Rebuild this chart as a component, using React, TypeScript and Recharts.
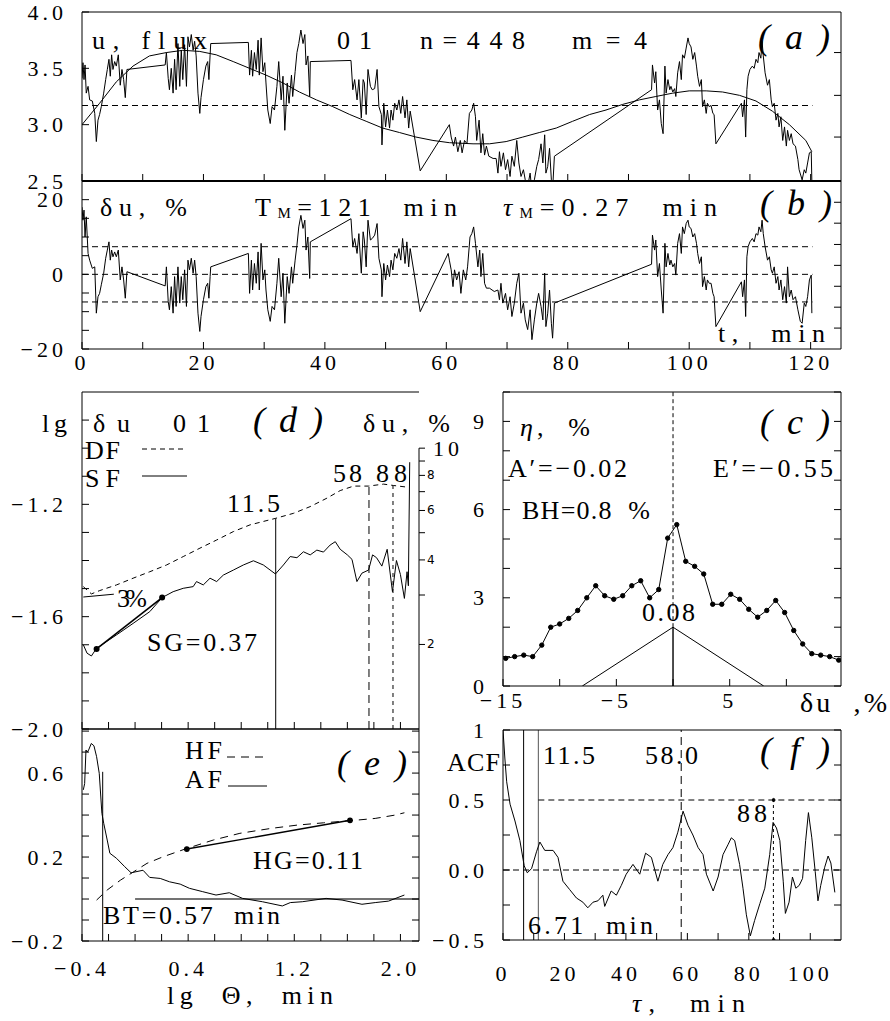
import React from "react";
import { LineChart, Line, XAxis, YAxis, ReferenceLine } from "recharts";

const FONT = '"Liberation Serif", "Times New Roman", serif';
const LS = 4;

type Pt = [number, number];
const toXY = (pts: Pt[]) => pts.map(([x, y]) => ({ x, y }));

// ---- panel (a): flux u(t) and its polynomial fit
const flux: Pt[] = [
  [0, 3.41], [0.16, 3.55], [0.33, 3.4], [0.5, 3.53], [0.7, 3.28], [1.0, 3.34], [1.26, 3.22], [1.7, 3.21], [2.1, 3.1], [2.36, 2.85],
  [2.63, 3.04], [2.9, 3.09], [3.18, 3.16], [3.57, 3.28], [3.9, 3.4], [4.17, 3.49], [4.44, 3.58], [4.66, 3.43], [4.88, 3.62], [5.1, 3.49],
  [5.38, 3.56], [5.65, 3.52], [5.98, 3.62], [6.3, 3.35], [6.58, 3.49], [6.86, 3.4], [7.13, 3.24], [7.4, 3.49],
  [13.7, 3.53], [13.9, 3.64], [14.2, 3.41], [14.4, 3.31], [14.7, 3.5], [15.0, 3.28], [15.25, 3.58], [15.5, 3.31], [15.8, 3.72], [16.1, 3.34],
  [16.35, 3.66], [16.6, 3.4], [16.9, 3.71], [17.2, 3.34], [17.45, 3.78], [17.7, 3.69], [18.0, 3.8], [18.3, 3.66], [18.55, 3.74], [18.8, 3.61],
  [19.1, 3.28], [19.4, 3.1], [19.6, 3.24], [20.0, 3.4], [20.4, 3.52], [20.7, 3.56], [20.9, 3.4], [21.1, 3.62], [21.2, 3.72],
  [27.4, 3.73], [27.6, 3.44], [27.9, 3.66], [28.1, 3.43], [28.4, 3.64], [28.7, 3.49], [29.0, 3.75], [29.2, 3.44], [29.5, 3.77], [29.8, 3.47],
  [30.1, 3.55], [30.3, 3.37], [30.6, 3.13], [31.0, 3.01], [31.3, 3.16], [31.7, 3.13], [32.1, 3.34], [32.4, 3.56], [32.8, 3.22], [33.1, 3.43],
  [33.4, 2.95], [33.8, 3.37], [34.1, 3.19], [34.5, 3.44], [34.7, 3.25], [35.1, 3.47], [35.4, 3.64], [35.7, 3.72], [36.05, 3.84], [36.4, 3.72],
  [36.7, 3.8], [36.9, 3.53], [37.2, 3.61], [37.5, 3.25], [37.6, 3.56],
  [44.3, 3.57], [44.6, 3.31], [44.9, 3.4], [45.3, 3.22], [45.6, 3.4], [46.0, 3.06], [46.3, 3.4], [46.5, 3.37], [46.8, 3.09], [47.1, 3.49],
  [47.5, 3.34], [47.8, 3.31], [48.2, 3.32], [48.6, 3.49], [48.9, 3.16], [49.3, 3.09], [49.4, 2.82], [49.7, 3.19], [50.0, 2.98], [50.3, 3.13],
  [50.65, 2.97], [50.9, 3.13], [51.2, 3.04], [51.5, 3.19], [51.85, 3.13], [52.2, 3.22], [52.5, 3.1], [52.8, 3.25], [53.2, 3.06], [53.5, 3.22],
  [53.8, 2.97], [54.05, 3.12], [55.7, 2.59],
  [60.5, 3.0], [60.8, 2.89], [61.2, 2.81], [61.5, 2.89], [61.9, 2.76], [62.3, 2.86], [62.6, 2.75], [63.0, 2.86], [63.4, 2.83], [63.8, 3.1],
  [64.2, 3.13], [64.5, 3.19], [64.8, 3.07], [65.0, 2.86], [65.4, 3.04], [65.7, 2.75], [66.0, 2.92], [66.3, 2.73], [66.6, 2.81], [67.0, 2.72],
  [67.7, 2.7], [68.2, 2.7], [68.5, 2.57], [68.75, 2.76], [69.0, 2.63], [69.4, 2.75], [69.75, 2.6], [70.1, 2.69], [70.5, 2.54], [70.8, 2.72],
  [71.2, 2.63], [71.6, 2.86], [71.95, 2.66], [72.3, 2.54], [72.7, 2.6], [73.0, 2.51], [73.4, 2.45], [73.8, 2.57], [74.1, 2.41], [74.5, 2.51],
  [74.9, 2.63], [75.2, 2.69], [75.6, 2.83], [75.9, 2.66], [76.2, 2.91], [76.4, 2.57], [76.7, 2.63], [77.0, 2.79], [77.3, 2.51], [77.5, 2.42],
  [77.8, 2.72],
  [93.8, 3.31], [93.95, 3.53], [94.3, 3.37], [94.5, 3.47], [94.8, 3.13], [95.1, 3.22], [95.4, 3.01], [95.7, 2.92], [96.0, 3.52], [96.2, 3.28],
  [96.5, 3.4], [96.8, 3.31], [97.0, 3.34], [97.3, 3.29], [97.6, 3.32], [97.8, 3.25], [98.1, 3.46], [98.4, 3.56], [98.7, 3.4], [98.9, 3.62],
  [99.2, 3.59], [99.5, 3.68], [99.8, 3.77], [100.0, 3.72], [100.3, 3.69], [100.6, 3.58], [100.9, 3.64], [101.2, 3.52], [101.4, 3.43], [101.7, 3.34],
  [102.0, 3.4], [102.2, 3.16], [102.5, 3.22], [102.8, 3.1], [103.0, 3.19], [103.3, 3.16], [103.6, 3.17], [103.9, 3.1], [104.1, 3.09], [104.4, 2.83],
  [108.6, 3.19], [108.8, 3.07], [109.1, 3.22], [109.3, 2.89], [109.5, 3.31], [109.7, 3.43], [110.0, 3.49], [110.4, 3.52], [110.7, 3.5], [111.0, 3.58],
  [111.3, 3.55], [111.5, 3.64], [111.8, 3.59], [112.0, 3.74], [112.2, 3.61], [112.5, 3.46], [112.9, 3.35], [113.2, 3.4], [113.5, 3.22], [113.7, 3.16],
  [114.0, 3.19], [114.3, 3.04], [114.6, 3.1], [114.8, 2.98], [115.1, 3.07], [115.4, 2.86], [115.7, 2.98], [116.0, 2.81], [116.2, 2.95], [116.5, 2.86],
  [116.8, 2.92], [117.1, 2.83], [117.5, 2.81], [117.9, 2.69], [118.1, 2.6], [118.6, 2.51], [118.95, 2.6], [119.2, 2.57], [119.5, 2.66], [119.8, 2.75],
  [120.1, 2.76], [120.2, 2.5],
];

const fluxFit: Pt[] = [
  [0, 3.0], [2.9, 3.19], [5.65, 3.38], [8.4, 3.52], [11.1, 3.61], [13.9, 3.64], [16.6, 3.66], [19.4, 3.65], [22.1, 3.62], [24.9, 3.56],
  [27.6, 3.5], [30.3, 3.44], [33.1, 3.37], [35.8, 3.29], [38.6, 3.22], [41.3, 3.16], [44.1, 3.09], [46.8, 3.03], [49.5, 2.97], [52.3, 2.93],
  [55.0, 2.89], [57.8, 2.86], [60.5, 2.84], [64.4, 2.83], [67.1, 2.83], [69.85, 2.85], [72.6, 2.89], [75.3, 2.93], [78.1, 2.97], [80.8, 3.03],
  [83.6, 3.09], [86.3, 3.13], [89.05, 3.18], [91.8, 3.22], [94.5, 3.25], [97.3, 3.28], [100.0, 3.3], [102.8, 3.3], [105.5, 3.29], [108.3, 3.26],
  [111.0, 3.21], [113.7, 3.12], [116.5, 3.0], [119.2, 2.86], [120.2, 2.76],
];

// ---- panel (b): relative deviation du(t), %
const dev: Pt[] = [
  [0, 18.0], [0.16, 14.5], [0.33, 17.2], [0.5, 10.0], [0.7, 15.4], [1.0, 5.6], [1.26, 3.8], [1.7, 1.6], [2.1, 2.0], [2.36, -10.4],
  [2.63, -6.0], [2.9, -5.1], [3.18, -2.8], [3.57, 0.3], [3.9, 4.3], [4.17, 6.5], [4.44, 8.7], [4.66, 3.8], [4.88, 6.5], [5.1, 4.7],
  [5.38, 6.0], [5.65, 4.7], [5.98, 6.5], [6.3, -1.5], [6.58, 2.0], [6.86, -1.5], [7.13, -6.4], [7.4, 0.7],
  [13.7, -3.1], [13.9, 2.0], [14.2, -7.3], [14.4, -9.5], [14.7, -3.3], [15.0, -10.4], [15.25, -0.6], [15.5, -8.6], [15.8, 2.0], [16.1, -7.7],
  [16.35, -0.6], [16.6, -6.8], [16.9, 1.2], [17.2, -8.6], [17.45, 3.8], [17.7, 1.2], [18.0, 4.3], [18.3, 0.3], [18.55, 3.8], [18.8, -0.6],
  [19.1, -10.4], [19.4, -15.3], [19.6, -11.3], [20.0, -6.8], [20.4, -3.3], [20.7, -2.4], [20.9, -6.4], [21.1, -0.6], [21.2, 2.0],
  [27.4, 5.6], [27.6, -5.1], [27.9, 3.8], [28.1, -4.2], [28.4, 2.9], [28.7, -2.4], [29.0, 6.0], [29.2, -4.2], [29.5, 8.3], [29.8, -1.5],
  [30.1, 1.2], [30.3, -4.2], [30.6, -9.5], [31.0, -12.6], [31.3, -8.6], [31.7, -9.5], [32.1, -2.4], [32.4, 4.3], [32.8, -6.0], [33.1, 0.3],
  [33.4, -13.1], [33.8, -0.6], [34.1, -5.1], [34.5, 2.0], [34.7, -2.4], [35.1, 3.8], [35.4, 7.8], [35.7, 12.7], [36.05, 15.8], [36.4, 12.3],
  [36.7, 14.5], [36.9, 6.5], [37.2, 10.0], [37.5, -1.1], [37.6, 8.7],
  [44.3, 14.9], [44.6, 7.4], [44.9, 9.6], [45.3, 5.6], [45.6, 10.9], [46.0, 0.3], [46.3, 11.4], [46.5, 9.2], [46.8, 2.0], [47.1, 14.5],
  [47.5, 9.2], [47.8, 9.6], [48.2, 10.5], [48.6, 13.6], [48.9, 4.3], [49.3, 1.2], [49.4, -6.0], [49.7, 2.9], [50.0, -1.5], [50.3, 2.5],
  [50.65, -0.6], [50.9, 3.8], [51.2, 1.2], [51.5, 5.6], [51.85, 4.3], [52.2, 6.9], [52.5, 3.8], [52.8, 9.6], [53.2, 2.9], [53.5, 8.7],
  [53.8, 2.0], [54.05, 6.9], [55.7, -10.0],
  [60.3, 5.6], [60.5, 3.8], [60.8, 1.2], [61.1, -3.3], [61.35, 1.2], [61.7, -1.5], [62.1, 0.7], [62.4, -5.1], [62.8, 1.2], [63.2, -1.5],
  [63.5, 2.0], [63.9, 10.0], [64.2, 10.9], [64.5, 12.7], [64.8, 8.3], [65.2, 2.0], [65.5, 6.5], [65.7, -0.6], [66.0, 5.6], [66.3, -2.4],
  [66.6, -3.7], [67.1, -3.7], [67.9, -4.6], [68.5, -4.2], [68.75, -6.8], [69.0, -2.4], [69.3, -7.7], [69.75, -5.1], [70.1, -9.5], [70.5, -6.0],
  [70.8, -11.3], [71.2, -7.7], [71.6, -2.4], [71.95, 0.3], [72.3, -10.4], [72.7, -7.7], [73.0, -12.2], [73.4, -14.8], [73.8, -9.5], [74.1, -17.5],
  [74.5, -12.2], [74.9, -7.7], [75.2, -5.1], [75.6, -8.6], [75.9, -12.2], [76.2, 0.3], [76.4, -14.0], [76.7, -10.4], [77.0, -4.2], [77.3, -13.1],
  [77.5, -17.1], [77.8, -7.7],
  [93.8, 2.7], [93.95, 10.5], [94.3, 6.5], [94.5, 9.2], [94.8, -0.6], [95.1, 2.9], [95.4, -4.2], [95.7, -10.4], [96.0, 8.3], [96.2, 2.0],
  [96.5, 5.6], [96.8, 2.5], [97.0, 3.8], [97.3, 2.0], [97.6, 2.9], [97.8, -0.2], [98.1, 8.3], [98.4, 10.9], [98.7, 5.6], [98.9, 12.7],
  [99.2, 10.9], [99.5, 13.6], [99.8, 14.5], [100.0, 12.7], [100.3, 12.3], [100.6, 10.0], [100.9, 10.9], [101.2, 8.3], [101.4, 5.6], [101.7, 2.9],
  [102.0, 4.7], [102.2, -3.3], [102.5, -0.6], [102.8, -4.2], [103.0, -1.5], [103.3, -2.4], [103.6, -2.4], [103.9, -5.1], [104.1, -6.0], [104.4, -14.0],
  [108.6, -2.0], [108.8, -6.0], [109.1, -1.5], [109.3, -11.3], [109.5, 4.7], [109.7, 7.4], [110.0, 8.7], [110.4, 9.6], [110.7, 8.7], [111.0, 10.9],
  [111.3, 10.5], [111.5, 12.7], [111.8, 11.4], [112.0, 14.5], [112.2, 10.9], [112.5, 7.4], [112.9, 3.8], [113.2, 4.7], [113.5, 1.2], [113.7, 0.3],
  [114.0, 2.0], [114.3, -2.4], [114.6, -0.6], [114.8, -4.2], [115.1, -1.5], [115.4, -6.8], [115.7, -3.3], [116.0, -7.7], [116.2, 2.0], [116.5, -6.0],
  [116.8, -4.2], [117.1, -6.8], [117.5, -6.0], [117.9, -9.5], [118.3, -12.6], [118.6, -13.1], [118.95, -7.7], [119.2, -8.6], [119.5, -6.0], [119.8, -1.5],
  [120.1, -0.2], [120.2, -10.4],
];

// ---- panel (d): lg du vs lg theta
const dfCurve: Pt[] = [
  [-0.39, -1.493], [-0.329, -1.519], [-0.266, -1.507], [-0.14, -1.487], [-0.015, -1.463], [0.111, -1.44], [0.237, -1.416], [0.363, -1.386],
  [0.489, -1.356], [0.615, -1.327], [0.741, -1.297], [0.867, -1.273], [1.058, -1.25], [1.194, -1.232], [1.32, -1.208], [1.446, -1.178],
  [1.546, -1.151], [1.647, -1.135], [1.76, -1.135], [1.873, -1.128], [1.949, -1.133], [2.055, -1.139],
];
const sfCurve: Pt[] = [
  [-0.39, -1.7], [-0.362, -1.73], [-0.329, -1.74], [-0.291, -1.713], [-0.216, -1.689], [-0.14, -1.665], [-0.015, -1.624], [0.111, -1.582],
  [0.204, -1.532], [0.287, -1.511], [0.363, -1.499], [0.438, -1.493], [0.463, -1.475], [0.514, -1.487], [0.565, -1.463], [0.615, -1.475],
  [0.665, -1.452], [0.741, -1.434], [0.816, -1.416], [0.892, -1.401], [0.967, -1.416], [1.058, -1.448], [1.118, -1.416], [1.169, -1.386],
  [1.22, -1.39], [1.269, -1.369], [1.32, -1.38], [1.37, -1.363], [1.42, -1.37], [1.47, -1.345], [1.509, -1.333], [1.546, -1.36],
  [1.6, -1.38], [1.635, -1.396], [1.672, -1.475], [1.71, -1.445], [1.76, -1.434], [1.79, -1.38], [1.82, -1.39], [1.86, -1.42],
  [1.9, -1.36], [1.94, -1.511], [1.97, -1.4], [2.0, -1.45], [2.03, -1.535], [2.05, -1.44], [2.06, -1.49], [2.07, -1.05],
];
const sgFit: Pt[] = [[-0.29, -1.715], [0.204, -1.532]];
const dRightTicks = [2, 3, 4, 5, 6, 7, 8, 9, 10];

// ---- panel (e): Hurst function HF and AF
const hfCurve: Pt[] = [
  [-0.29, -0.005], [-0.21, 0.043], [-0.11, 0.09], [-0.01, 0.13], [0.09, 0.17], [0.21, 0.201], [0.39, 0.241], [0.59, 0.281],
  [0.79, 0.313], [1.02, 0.336], [1.22, 0.352], [1.42, 0.363], [1.62, 0.373], [1.81, 0.384], [1.96, 0.4], [2.03, 0.411],
];
const afCurve: Pt[] = [
  [-0.39, 0.52], [-0.38, 0.55], [-0.37, 0.71], [-0.36, 0.7], [-0.35, 0.71], [-0.33, 0.741], [-0.31, 0.73], [-0.29, 0.678], [-0.27, 0.599],
  [-0.25, 0.408], [-0.236, 0.36], [-0.21, 0.281], [-0.19, 0.218], [-0.14, 0.194], [-0.078, 0.154], [-0.03, 0.125], [0.06, 0.137],
  [0.11, 0.103], [0.19, 0.098], [0.26, 0.082], [0.34, 0.071], [0.41, 0.051], [0.51, 0.035], [0.61, 0.019], [0.71, 0.03], [0.81, 0.003],
  [0.96, -0.013], [1.11, -0.033], [1.17, -0.017], [1.26, -0.013], [1.44, 0.003], [1.56, -0.005], [1.71, -0.025], [1.81, -0.017],
  [1.91, -0.01], [2.03, 0.019],
];
const hgFit: Pt[] = [[0.39, 0.238], [1.62, 0.375]];

// ---- panel (c): distribution of du, %
const etaBins = [
  -14.76, -13.97, -13.17, -12.38, -11.58, -10.79, -10.0, -9.2, -8.41, -7.61, -6.82, -6.03, -5.23, -4.44, -3.64, -2.85, -2.06, -1.26, -0.47,
  0.33, 1.12, 1.91, 2.71, 3.5, 4.3, 5.09, 5.88, 6.68, 7.47, 8.27, 9.06, 9.85, 10.65, 11.44, 12.24, 13.03, 13.82, 14.62,
];
const etaVals = [
  0.94, 1.0, 1.05, 1.0, 1.39, 2.0, 2.11, 2.3, 2.57, 3.0, 3.41, 3.07, 2.95, 3.07, 3.41, 3.58, 3.0, 3.28, 5.03,
  5.49, 4.24, 4.07, 3.81, 2.78, 2.78, 3.12, 2.95, 2.61, 2.34, 2.57, 2.91, 2.5, 1.89, 1.43, 1.1, 1.05, 1.0, 0.88,
];
const bhTriangle: Pt[] = [[-8, 0], [0, 2], [8, 0]];

// ---- panel (f): autocorrelation function
const acf: Pt[] = [
  [0, 1.0], [0.6, 0.8], [1.2, 0.63], [2.3, 0.47], [3.9, 0.35], [5.5, 0.21], [6.9, 0.03], [7.9, -0.02], [9.3, 0.01], [10.9, 0.13],
  [12.0, 0.2], [13.6, 0.14], [16.3, 0.14], [17.9, 0.09], [19.5, -0.08], [21.7, -0.14], [23.9, -0.2], [26.0, -0.23], [27.6, -0.27], [29.3, -0.23],
  [30.9, -0.22], [32.5, -0.18], [33.1, -0.26], [35.2, -0.15], [36.9, -0.18], [38.5, -0.11], [40.1, -0.03], [42.3, 0.04], [44.5, -0.03], [46.4, 0.12],
  [48.3, 0.09], [50.4, -0.08], [52.0, 0.04], [53.7, 0.11], [55.3, 0.16], [56.9, 0.27], [58.6, 0.42], [60.2, 0.32], [61.8, 0.25], [63.5, 0.16],
  [65.1, 0.11], [66.2, -0.03], [68.4, -0.15], [70.0, -0.05], [71.6, 0.11], [73.2, 0.18], [74.3, 0.23], [75.4, 0.21], [77.0, 0.04], [78.1, -0.13],
  [79.2, -0.32], [80.5, -0.47], [81.9, -0.36], [83.6, -0.24], [85.2, -0.13], [86.8, 0.11], [87.9, 0.34], [89.0, 0.3], [90.1, 0.21], [91.2, -0.08],
  [91.9, -0.31], [93.1, -0.23], [94.2, -0.05], [95.3, -0.13], [96.4, -0.11], [97.5, -0.06], [98.5, 0.21], [99.4, 0.41], [100.5, 0.23], [101.6, -0.01],
  [102.5, -0.22], [103.4, -0.11], [104.7, 0.02], [105.8, 0.1], [106.7, 0.05], [108.0, -0.16],
];
const acfMark88: Pt[] = [[88, -0.5], [88, 0.5]];

// ---- ticks
const tTicks = [0, 10, 20, 30, 40, 50, 60, 70, 80, 90, 100, 110, 120];
const tLabels = [0, 20, 40, 60, 80, 100, 120];
const uTicks = [2.5, 3.0, 3.5, 4.0];
const uRightTicks = [2.89, 3.26, 3.64];
const duTicks = [-20, -15, -10, -5, 0, 5, 10, 15, 20];
const duLabels = [-20, 0, 20];
const duRightTicks = [-14.4, -8.8, -3.2, 2.4, 8.0, 13.7, 19.3];
const thTicks = [-0.4, -0.2, 0, 0.2, 0.4, 0.6, 0.8, 1.0, 1.2, 1.4, 1.6, 1.8, 2.0];
const thLabels = [-0.4, 0.4, 1.2, 2.0];
const lgTicks = [-2.0, -1.9, -1.8, -1.7, -1.6, -1.5, -1.4, -1.3, -1.2, -1.1, -1.0, -0.9];
const lgLabels = [-2.0, -1.6, -1.2];
const hTicks = [-0.2, -0.1, 0, 0.1, 0.2, 0.3, 0.4, 0.5, 0.6, 0.7, 0.8];
const hLabels = [-0.2, 0.2, 0.6];
const etaTicks = [0, 1, 2, 3, 4, 5, 6, 7, 8, 9, 10];
const etaLabels = [0, 3, 6, 9];
const binTicks = [-15, -10, -5, 0, 5, 10];
const binLabels = [-15, -5, 5];
const tauTicks = [0, 10, 20, 30, 40, 50, 60, 70, 80, 90, 100];
const tauLabels = [0, 20, 40, 60, 80, 100];
const acfTicks = [-0.5, -0.25, 0, 0.25, 0.5, 0.75, 1.0];
const acfLabels: Pt[] = [[-0.5, 1], [0, 1], [0.5, 1], [1.0, 0]];

const fluxMean = 3.17;
const duBand = 7.4;

const num = (v: number, d: number) => (v < -1e-9 ? "\u2212" : "") + Math.abs(v).toFixed(d);
const pick = (labels: number[], d: number) => (v: number) =>
  labels.some((l) => Math.abs(l - v) < 1e-6) ? num(v, d) : "";
const none = () => "";

function Tk(props: any) {
  const { x, y, payload, fmt, anchor = "middle", size = 22 } = props;
  const s = fmt(payload.value);
  if (!s) return <g />;
  return (
    <text x={x} y={y} textAnchor={anchor} dominantBaseline="central" fontSize={size} fill="#000" fontFamily={FONT} letterSpacing={LS}>
      {s}
    </text>
  );
}

function TkD(props: any) {
  const { x, y, payload } = props;
  const k = dRightTicks.find((d) => Math.abs(Math.log10(d / 100) - payload.value) < 1e-6);
  if (k === 10) {
    return (
      <text x={x + 6} y={y} dominantBaseline="central" fontSize={22} fill="#000" fontFamily={FONT} letterSpacing={LS}>10</text>
    );
  }
  if (k && k % 2 === 0) {
    return (
      <text x={x} y={y} dominantBaseline="central" fontSize={12} fill="#000" fontFamily="DejaVu Sans">{k}</text>
    );
  }
  return <g />;
}

type Box = { L: number; T: number; R: number; B: number };
type Pad = { l: number; r: number; t: number; b: number };
function place(box: Box, pad: Pad) {
  return {
    left: box.L - pad.l,
    top: box.T - pad.t,
    width: box.R - box.L + pad.l + pad.r,
    height: box.B - box.T + pad.t + pad.b,
    margin: { left: pad.l - 1, right: pad.r - 1, top: pad.t - 1, bottom: pad.b - 1 },
  };
}

const boxA = { L: 82, T: 12, R: 841, B: 181 };
const boxB = { L: 82, T: 181, R: 841, B: 349 };
const boxD = { L: 82, T: 392, R: 419, B: 729 };
const boxE = { L: 82, T: 729, R: 419, B: 941 };
const boxC = { L: 503, T: 392, R: 841, B: 686 };
const boxF = { L: 503, T: 730, R: 841, B: 940 };

const K = "#000";
const ln = { stroke: K, strokeWidth: 1, dot: false, isAnimationActive: false, type: "linear" as const };

function Ann({ x, y, len, size = 26, italic = false, children }: any) {
  return (
    <text x={x} y={y} dominantBaseline="central" fontSize={size} fontStyle={italic ? "italic" : "normal"}
      textLength={len} lengthAdjust="spacing" fontFamily={FONT} fill="#000" style={{ whiteSpace: "pre" }}>
      {children}
    </text>
  );
}

export default function App() {
  const pa = place(boxA, { l: 82, r: 45, t: 12, b: 14 });
  const pb = place(boxB, { l: 82, r: 45, t: 4, b: 30 });
  const pd = place(boxD, { l: 82, r: 60, t: 4, b: 14 });
  const pe = place(boxE, { l: 82, r: 10, t: 4, b: 45 });
  const pc = place(boxC, { l: 70, r: 45, t: 4, b: 30 });
  const pf = place(boxF, { l: 70, r: 45, t: 14, b: 50 });
  const abs = (p: any) => ({ position: "absolute" as const, left: p.left, top: p.top });
  const acfFmt = (v: number) => {
    const f = acfLabels.find(([a]) => Math.abs(a - v) < 1e-6);
    return f ? num(v, f[1]) : "";
  };

  return (
    <div style={{ position: "absolute", left: 0, top: 0, width: 890, height: 1021, background: "#fff", fontFamily: FONT }}>
      {/* (a) */}
      <div style={abs(pa)}>
        <LineChart width={pa.width} height={pa.height} margin={pa.margin}>
          <XAxis xAxisId={0} type="number" dataKey="x" domain={[0, 125]} allowDataOverflow orientation="bottom" height={1}
            ticks={tTicks} interval={0} tickSize={-7} tick={<Tk fmt={none} />} stroke={K} axisLine={{ stroke: K, strokeWidth: 2 }} />
          <XAxis xAxisId="t" type="number" domain={[0, 125]} allowDataOverflow orientation="top" height={1}
            ticks={tTicks} interval={0} tickSize={-7} tick={<Tk fmt={none} />} stroke={K} />
          <YAxis yAxisId={0} type="number" domain={[2.5, 4]} allowDataOverflow width={1} ticks={uTicks} interval={0}
            tickSize={-7} tickMargin={22} tick={<Tk fmt={pick(uTicks, 1)} anchor="end" />} stroke={K} />
          <YAxis yAxisId="r" orientation="right" type="number" domain={[2.5, 4]} allowDataOverflow width={1} ticks={uRightTicks}
            interval={0} tickSize={-7} tick={<Tk fmt={none} />} stroke={K} />
          <ReferenceLine segment={[{ x: 0, y: fluxMean }, { x: 120.3, y: fluxMean }]} stroke={K} strokeDasharray="6 4" />
          <Line data={toXY(flux)} dataKey="y" {...ln} />
          <Line data={toXY(fluxFit)} dataKey="y" {...ln} />
        </LineChart>
      </div>

      {/* (b) */}
      <div style={abs(pb)}>
        <LineChart width={pb.width} height={pb.height} margin={pb.margin}>
          <XAxis xAxisId={0} type="number" dataKey="x" domain={[0, 125]} allowDataOverflow orientation="bottom" height={1}
            ticks={tTicks} interval={0} tickSize={-7} tickMargin={20} tick={<Tk fmt={pick(tLabels, 0)} />} stroke={K} />
          <XAxis xAxisId="t" type="number" domain={[0, 125]} allowDataOverflow orientation="top" height={1}
            ticks={[]} tickLine={false} stroke={K} axisLine={{ stroke: K, strokeWidth: 2 }} />
          <YAxis yAxisId={0} type="number" domain={[-20, 25]} allowDataOverflow width={1} ticks={duTicks} interval={0}
            tickSize={-7} tickMargin={22} tick={<Tk fmt={pick(duLabels, 0)} anchor="end" />} stroke={K} />
          <YAxis yAxisId="r" orientation="right" type="number" domain={[-20, 25]} allowDataOverflow width={1} ticks={duRightTicks}
            interval={0} tickSize={-7} tick={<Tk fmt={none} />} stroke={K} />
          <ReferenceLine segment={[{ x: 0, y: duBand }, { x: 120.3, y: duBand }]} stroke={K} strokeDasharray="6 4" />
          <ReferenceLine segment={[{ x: 0, y: 0 }, { x: 120.3, y: 0 }]} stroke={K} strokeDasharray="6 4" />
          <ReferenceLine segment={[{ x: 0, y: -duBand }, { x: 120.3, y: -duBand }]} stroke={K} strokeDasharray="6 4" />
          <Line data={toXY(dev)} dataKey="y" {...ln} />
        </LineChart>
      </div>

      {/* (d) */}
      <div style={abs(pd)}>
        <LineChart width={pd.width} height={pd.height} margin={pd.margin}>
          <XAxis xAxisId={0} type="number" dataKey="x" domain={[-0.4, 2.14]} allowDataOverflow orientation="bottom" height={1}
            ticks={thTicks} interval={0} tickSize={-7} tick={<Tk fmt={none} />} stroke={K} />
          <XAxis xAxisId="t" type="number" domain={[-0.4, 2.14]} allowDataOverflow orientation="top" height={1}
            ticks={thTicks} interval={0} tickSize={-7} tick={<Tk fmt={none} />} stroke={K} />
          <YAxis yAxisId={0} type="number" domain={[-2.0, -0.8]} allowDataOverflow width={1} ticks={lgTicks} interval={0}
            tickSize={-7} tickMargin={22} tick={<Tk fmt={pick(lgLabels, 1)} anchor="end" />} stroke={K} />
          <YAxis yAxisId="r" orientation="right" type="number" domain={[-2.0, -0.8]} allowDataOverflow width={1}
            ticks={dRightTicks.map((k) => Math.log10(k / 100))} interval={0} tickSize={6} tickMargin={2}
            axisLine={false} tick={<TkD />} stroke={K} />
          <ReferenceLine segment={[{ x: 2.14, y: -2.0 }, { x: 2.14, y: -1.0 }]} stroke={K} />
          <ReferenceLine segment={[{ x: 1.06, y: -2.0 }, { x: 1.06, y: -1.25 }]} stroke={K} />
          <ReferenceLine segment={[{ x: 1.763, y: -2.0 }, { x: 1.763, y: -1.135 }]} stroke={K} strokeDasharray="8 5" />
          <ReferenceLine segment={[{ x: 1.944, y: -2.0 }, { x: 1.944, y: -1.133 }]} stroke={K} strokeDasharray="4 4" />
          <ReferenceLine segment={[{ x: -0.39, y: -1.53 }, { x: -0.16, y: -1.52 }]} stroke={K} />
          <Line data={toXY(dfCurve)} dataKey="y" {...ln} strokeDasharray="5 4" />
          <Line data={toXY(sfCurve)} dataKey="y" {...ln} />
          <Line data={toXY(sgFit)} dataKey="y" {...ln} strokeWidth={1.6} dot={{ r: 2.2, fill: K, stroke: K }} />
        </LineChart>
      </div>

      {/* (e) */}
      <div style={abs(pe)}>
        <LineChart width={pe.width} height={pe.height} margin={pe.margin}>
          <XAxis xAxisId={0} type="number" dataKey="x" domain={[-0.4, 2.14]} allowDataOverflow orientation="bottom" height={1}
            ticks={thTicks} interval={0} tickSize={-7} tickMargin={34} tick={<Tk fmt={pick(thLabels, 1)} />} stroke={K} />
          <XAxis xAxisId="t" type="number" domain={[-0.4, 2.14]} allowDataOverflow orientation="top" height={1}
            ticks={[]} tickLine={false} stroke={K} />
          <YAxis yAxisId={0} type="number" domain={[-0.2, 0.81]} allowDataOverflow width={1} ticks={hTicks} interval={0}
            tickSize={-7} tickMargin={22} tick={<Tk fmt={pick(hLabels, 1)} anchor="end" />} stroke={K} />
          <YAxis yAxisId="r" orientation="right" type="number" domain={[-0.2, 0.81]} allowDataOverflow width={1} ticks={hTicks}
            interval={0} tickSize={-7} tick={<Tk fmt={none} />} stroke={K} />
          <ReferenceLine segment={[{ x: -0.244, y: -0.2 }, { x: -0.244, y: 0.606 }]} stroke={K} />
          <ReferenceLine segment={[{ x: 0.0, y: 0 }, { x: 2.14, y: 0 }]} stroke="#444" strokeWidth={1.4} />
          <Line data={toXY(hfCurve)} dataKey="y" {...ln} strokeDasharray="8 6" />
          <Line data={toXY(afCurve)} dataKey="y" {...ln} />
          <Line data={toXY(hgFit)} dataKey="y" {...ln} strokeWidth={1.4} dot={{ r: 2.2, fill: K, stroke: K }} />
        </LineChart>
      </div>

      {/* (c) */}
      <div style={abs(pc)}>
        <LineChart width={pc.width} height={pc.height} margin={pc.margin}>
          <XAxis xAxisId={0} type="number" dataKey="x" domain={[-15, 14.82]} allowDataOverflow orientation="bottom" height={1}
            ticks={binTicks} interval={0} tickSize={-7} tickMargin={21} tick={<Tk fmt={pick(binLabels, 0)} />} stroke={K} />
          <XAxis xAxisId="t" type="number" domain={[-15, 14.82]} allowDataOverflow orientation="top" height={1}
            ticks={binTicks} interval={0} tickSize={-7} tick={<Tk fmt={none} />} stroke={K} />
          <YAxis yAxisId={0} type="number" domain={[0, 10]} allowDataOverflow width={1} ticks={etaTicks} interval={0}
            tickSize={-7} tickMargin={22} tick={<Tk fmt={pick(etaLabels, 0)} anchor="end" />} stroke={K} />
          <YAxis yAxisId="r" orientation="right" type="number" domain={[0, 10]} allowDataOverflow width={1} ticks={etaTicks}
            interval={0} tickSize={-7} tick={<Tk fmt={none} />} stroke={K} />
          <ReferenceLine segment={[{ x: 0, y: 0 }, { x: 0, y: 2 }]} stroke={K} strokeWidth={1.4} />
          <ReferenceLine segment={[{ x: 0, y: 2 }, { x: 0, y: 10 }]} stroke={K} strokeDasharray="4 3" />
          <Line data={toXY(bhTriangle)} dataKey="y" {...ln} />
          <Line data={etaBins.map((x, i) => ({ x, y: etaVals[i] }))} dataKey="y" {...ln} dot={{ r: 2.2, fill: K, stroke: K }} />
        </LineChart>
      </div>

      {/* (f) */}
      <div style={abs(pf)}>
        <LineChart width={pf.width} height={pf.height} margin={pf.margin}>
          <XAxis xAxisId={0} type="number" dataKey="x" domain={[0, 110]} allowDataOverflow orientation="bottom" height={1}
            ticks={tauTicks} interval={0} tickSize={-7} tickMargin={40} tick={<Tk fmt={pick(tauLabels, 0)} />} stroke={K} />
          <XAxis xAxisId="t" type="number" domain={[0, 110]} allowDataOverflow orientation="top" height={1}
            ticks={tauTicks} interval={0} tickSize={-7} tick={<Tk fmt={none} />} stroke={K} />
          <YAxis yAxisId={0} type="number" domain={[-0.5, 1.0]} allowDataOverflow width={1} ticks={acfTicks} interval={0}
            tickSize={-7} tickMargin={22} tick={<Tk fmt={acfFmt} anchor="end" />} stroke={K} />
          <YAxis yAxisId="r" orientation="right" type="number" domain={[-0.5, 1.0]} allowDataOverflow width={1} ticks={acfTicks}
            interval={0} tickSize={-7} tick={<Tk fmt={none} />} stroke={K} />
          <ReferenceLine x={6.71} stroke={K} />
          <ReferenceLine x={11.5} stroke="#555" />
          <ReferenceLine x={58} stroke={K} strokeDasharray="8 5" />
          <ReferenceLine segment={[{ x: 11.5, y: 0.5 }, { x: 110, y: 0.5 }]} stroke={K} strokeDasharray="6 4" />
          <ReferenceLine y={0} stroke={K} strokeDasharray="6 4" />
          <Line data={toXY(acfMark88)} dataKey="y" {...ln} strokeDasharray="3 3" dot={{ r: 1.6, fill: K, stroke: K }} />
          <Line data={toXY(acf)} dataKey="y" {...ln} />
        </LineChart>
      </div>

      {/* annotations */}
      <svg width={890} height={1021} style={{ position: "absolute", left: 0, top: 0, pointerEvents: "none" }}>
        <Ann x={92} y={40} len={115}>u, flux</Ann>
        <Ann x={337} y={40} len={35}>01</Ann>
        <Ann x={420} y={40} len={105}>n=448</Ann>
        <Ann x={572} y={40} len={75}>m=4</Ann>
        <Ann x={758} y={37} len={72} size={36} italic>( a )</Ann>

        <Ann x={100} y={207} len={87}>δu, %</Ann>
        <Ann x={255} y={207} len={202}>T<tspan fontSize={15} dy={6}>M</tspan><tspan dy={-6}>=121  min</tspan></Ann>
        <Ann x={503} y={207} len={214}><tspan fontStyle="italic">τ</tspan><tspan fontSize={15} dy={6}>M</tspan><tspan dy={-6}>=0.27  min</tspan></Ann>
        <Ann x={760} y={203} len={72} size={36} italic>( b )</Ann>
        <Ann x={718} y={333} len={107}>t,  min</Ann>

        <Ann x={42} y={423} len={25}>lg</Ann>
        <Ann x={93} y={423} len={37}>δu</Ann>
        <Ann x={173} y={423} len={37}>01</Ann>
        <Ann x={253} y={420} len={70} size={36} italic>( d )</Ann>
        <Ann x={363} y={423} len={87}>δu, %</Ann>
        <Ann x={85} y={450} len={35}>DF</Ann>
        <line x1={142} x2={187} y1={449} y2={449} stroke={K} strokeDasharray="5 4" />
        <Ann x={85} y={478} len={35}>SF</Ann>
        <line x1={142} x2={187} y1={476} y2={476} stroke={K} />
        <Ann x={227} y={503} len={53}>11.5</Ann>
        <Ann x={333} y={473} len={29}>58</Ann>
        <Ann x={376} y={473} len={31}>88</Ann>
        <Ann x={117} y={598} len={30}>3%</Ann>
        <Ann x={147} y={642} len={110}>SG=0.37</Ann>

        <Ann x={185} y={750} len={37}>HF</Ann>
        <line x1={227} x2={267} y1={757} y2={757} stroke={K} strokeDasharray="8 6" />
        <Ann x={185} y={779} len={37}>AF</Ann>
        <line x1={228} x2={267} y1={786} y2={786} stroke={K} />
        <Ann x={337} y={763} len={70} size={36} italic>( e )</Ann>
        <Ann x={253} y={860} len={110}>HG=0.11</Ann>
        <Ann x={103} y={915} len={177}>BT=0.57  min</Ann>
        <Ann x={167} y={995} len={166} size={26}>lg  Θ,  min</Ann>

        <Ann x={520} y={427} len={70}><tspan fontStyle="italic">η</tspan>,  %</Ann>
        <Ann x={760} y={422} len={70} size={36} italic>( c )</Ann>
        <Ann x={508} y={468} len={119}>A′=−0.02</Ann>
        <Ann x={713} y={468} len={120}>E′=−0.55</Ann>
        <Ann x={522} y={510} len={128}>BH=0.8  %</Ann>
        <Ann x={642} y={612} len={53}>0.08</Ann>
        <Ann x={800} y={702} len={87} size={28}>δu  ,%</Ann>

        <Ann x={447} y={762} len={53}>ACF</Ann>
        <Ann x={543} y={755} len={52}>11.5</Ann>
        <Ann x={645} y={755} len={53}>58.0</Ann>
        <Ann x={760} y={750} len={70} size={36} italic>( f )</Ann>
        <Ann x={737} y={813} len={30}>88</Ann>
        <Ann x={528} y={925} len={125}>6.71  min</Ann>
        <Ann x={632} y={1003} len={113} size={26}><tspan fontStyle="italic">τ</tspan>,  min</Ann>
      </svg>
    </div>
  );
}
